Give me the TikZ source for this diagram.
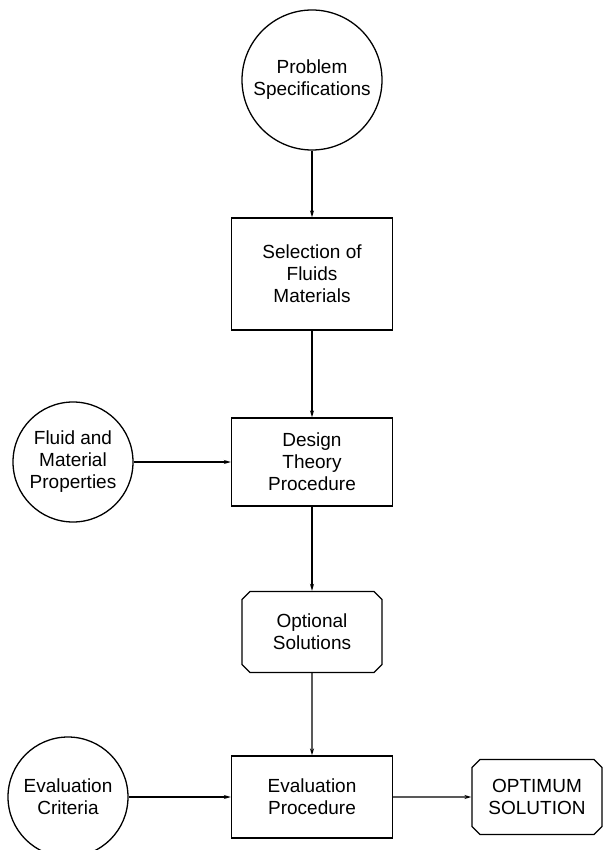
\documentclass[tikz,border=0pt]{standalone}
\usepackage{fontspec}
\setmainfont{Liberation Sans}
\usetikzlibrary{shapes.misc, arrows.meta,
calc
}

\begin{document}
\begin{tikzpicture}[x=1pt, y=-1pt, line width=1.3pt,
    font=\fontsize{19}{22}\selectfont,
    every node/.style={align=center, inner sep=2pt},
    source/.style={draw, circle},
    process/.style={draw, rectangle, minimum width=161pt},
    result/.style={draw, chamfered rectangle, chamfered rectangle xsep=4pt,
      chamfered rectangle ysep=4pt},
    flow/.style={-{Stealth[length=7pt, width=4pt]}}]
    \useasboundingbox (0,0) rectangle (603,850);
    \node[source, minimum size=140pt] (spec) at (312,80) {Problem\\Specifications};
    \node[process, minimum height=112pt] (select) at (312,274) {Selection of\\Fluids\\Materials};
    \node[process, minimum height=88pt] (design) at (312,462) {Design\\Theory\\Procedure};
    \node[source, minimum size=120pt] (props) at (73,462) {Fluid and\\Material\\Properties};
    \node[result, minimum width=140pt, minimum height=81pt] (options) at (312,632) {Optional\\Solutions};
    \node[process, minimum height=82pt] (evalproc) at (312,797) {Evaluation\\Procedure};
    \node[source, minimum size=120pt] (criteria) at (68,797) {Evaluation\\Criteria};
    \node[result, minimum width=130pt, minimum height=75pt] (optimum) at (537,797) {OPTIMUM\\SOLUTION};
    \draw[flow] (spec) -- (select);
    \draw[flow] (select) -- (design);
    \draw[flow] (props) -- (design);
    \draw[flow] (design) -- (options);
    \draw[flow] (options) -- (evalproc);
    \draw[flow] (criteria) -- (evalproc);
    \draw[flow] (evalproc) -- (optimum);
  \end{tikzpicture}
\end{document}
